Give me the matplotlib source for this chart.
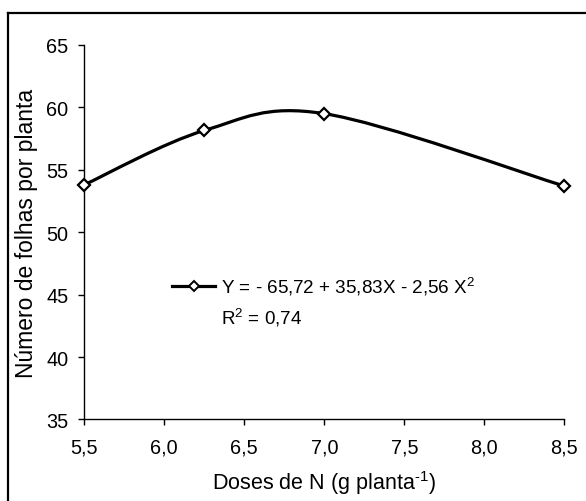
import matplotlib
matplotlib.use("Agg")
import matplotlib.pyplot as plt
from matplotlib.path import Path
from matplotlib.patches import PathPatch
from matplotlib.lines import Line2D
import numpy as np

plt.rcParams['font.family'] = ['Liberation Sans', 'DejaVu Sans']
plt.rcParams['mathtext.fontset'] = 'custom'
plt.rcParams['mathtext.rm'] = 'Liberation Sans'
plt.rcParams['mathtext.it'] = 'Liberation Sans:italic'
plt.rcParams['mathtext.bf'] = 'Liberation Sans:bold'

# Data
doses = [5.5, 6.25, 7.0, 8.5]
folhas = [53.8, 58.15, 59.5, 53.7]
xticks = [5.5, 6.0, 6.5, 7.0, 7.5, 8.0, 8.5]
xticklabels = ['5,5', '6,0', '6,5', '7,0', '7,5', '8,0', '8,5']
yticks = [35, 40, 45, 50, 55, 60, 65]
eq_label = 'Y = - 65,72 + 35,83X - 2,56 X$^{2}$'
r2_label = 'R$^{2}$ = 0,74'
xlabel = 'Doses de N (g planta$^{\u2010 1}$)'
ylabel = 'Número de folhas por planta'

fig = plt.figure(figsize=(5.86, 5.02), dpi=100)
ax = fig.add_axes([0.1438, 0.1624, 0.8191, 0.746])

# smooth (Excel-like) curve through the points: Catmull-Rom as cubic Bezier
pts = np.column_stack([doses, folhas])
n = len(pts)
verts = [tuple(pts[0])]
codes = [Path.MOVETO]
for i in range(n - 1):
    p0 = pts[max(i - 1, 0)]
    p1 = pts[i]
    p2 = pts[i + 1]
    p3 = pts[min(i + 2, n - 1)]
    c1 = p1 + (p2 - p0) / 6.0
    c2 = p2 - (p3 - p1) / 6.0
    verts += [tuple(c1), tuple(c2), tuple(p2)]
    codes += [Path.CURVE4] * 3
patch = PathPatch(Path(verts, codes), facecolor='none', edgecolor='black',
                  lw=2.3, capstyle='round', joinstyle='round', zorder=3)
ax.add_patch(patch)
ax.plot(doses, folhas, linestyle='none', marker='D', ms=6.5, mfc='white',
        mec='black', mew=1.6, zorder=4, clip_on=False)

ax.set_xlim(5.5, 8.5)
ax.set_ylim(35, 65)
ax.set_xticks(xticks)
ax.set_xticklabels(xticklabels)
ax.set_yticks(yticks)
ax.spines['top'].set_visible(False)
ax.spines['right'].set_visible(False)
for s in ['left', 'bottom']:
    ax.spines[s].set_linewidth(1.0)
ax.tick_params(axis='x', direction='out', length=4, width=1.0, pad=9, labelsize=14.3)
ax.tick_params(axis='y', direction='out', length=4.5, width=1.0, pad=7, labelsize=14.3)
ax.set_xlabel(xlabel, fontsize=15.5, labelpad=8)
ax.set_ylabel(ylabel, fontsize=16.5, labelpad=6)

handles = [Line2D([], [], color='black', lw=2.3, marker='D', ms=5, mfc='white',
                  mec='black', mew=1.4),
           Line2D([], [], linestyle='none')]
leg = ax.legend(handles, [eq_label, r2_label], loc='upper left',
                bbox_to_anchor=(0.1827, 0.385), frameon=False, fontsize=13.6,
                handlelength=2.3, handletextpad=0.28, borderpad=0,
                borderaxespad=0, labelspacing=0.45)

# outer frame (top and left visible)
fig.add_artist(Line2D([0.0137, 1.0], [0.9721, 0.9721], transform=fig.transFigure,
                      color='black', lw=1.6))
fig.add_artist(Line2D([0.0137, 0.0137], [0.0, 0.9721], transform=fig.transFigure,
                      color='black', lw=1.6))

fig.savefig('out.png', dpi=100)
